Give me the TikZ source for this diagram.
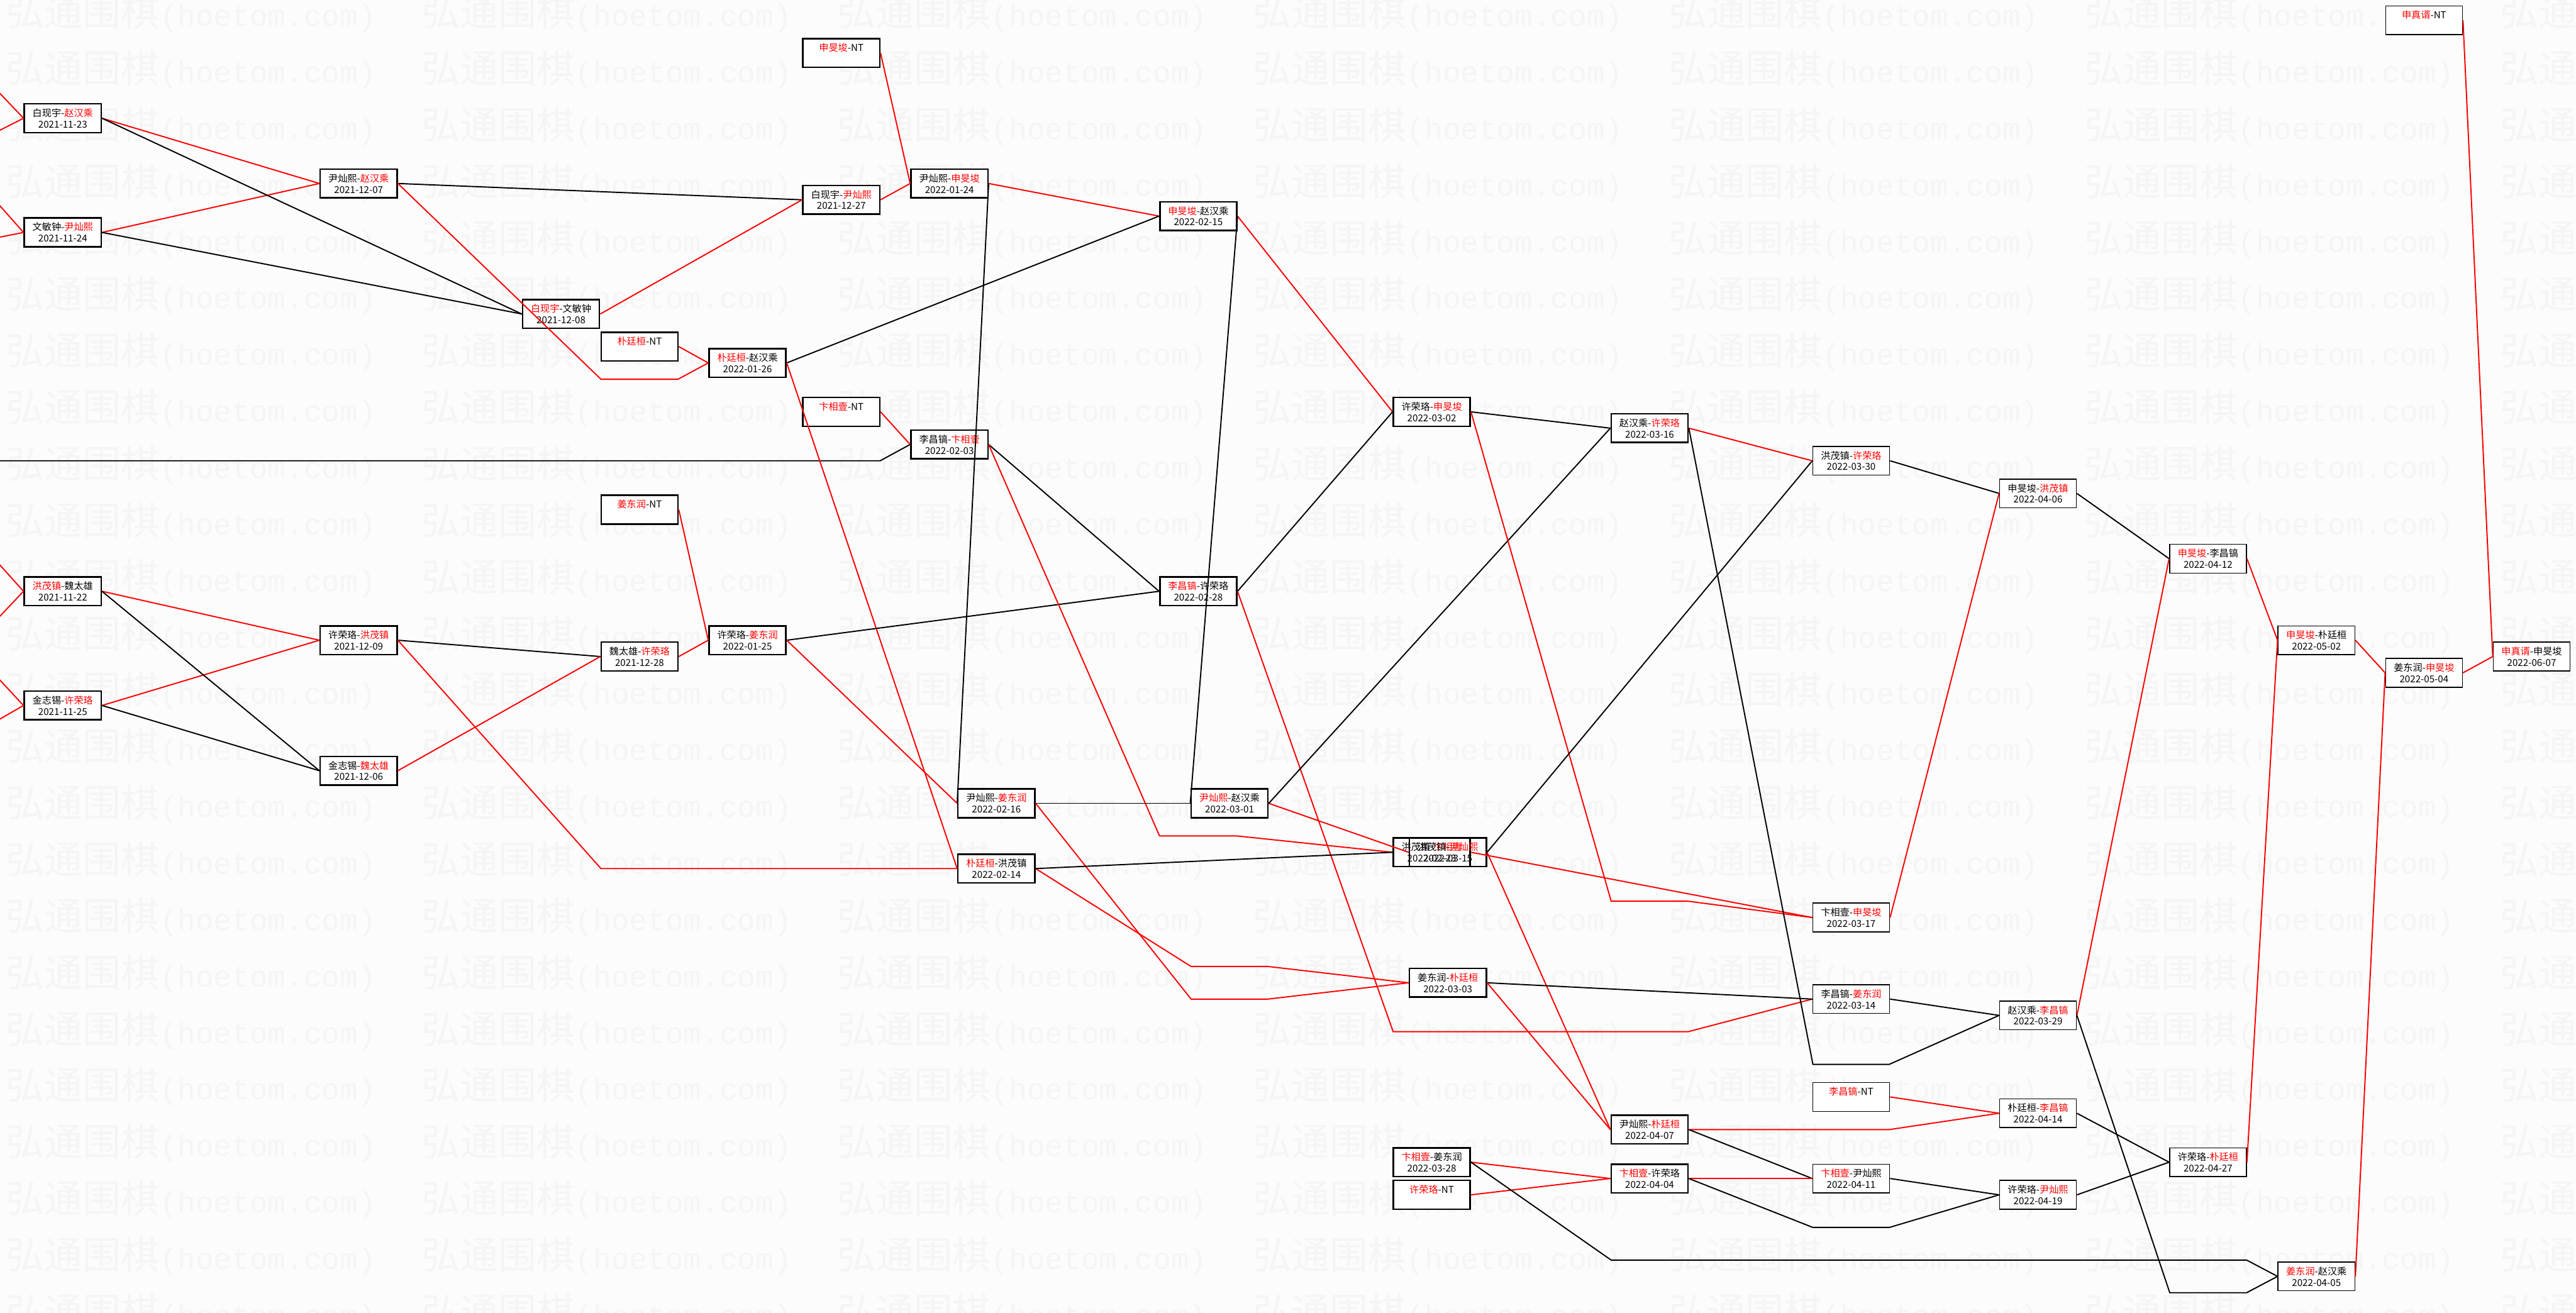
\documentclass[tikz,border=0pt]{standalone}
\usepackage{fontspec}
\usepackage{tikz}
\newfontfamily\cjk{Noto Sans CJK SC}
\newfontfamily\wmmono{Liberation Mono}
\definecolor{paper}{RGB}{252,252,252}
\definecolor{wmgray}{RGB}{245,245,245}
\newcommand{\rd}[1]{\textcolor{red}{#1}}
\newcommand{\gamefont}{\cjk\fontsize{3.3}{3.9}\selectfont}
\newcommand{\wmtext}{{\cjk\fontsize{13.3}{14}\selectfont 弘通围棋}{\wmmono\fontsize{10.4}{12}\selectfont(hoetom.com)}}

\begin{document}
\begin{tikzpicture}[x=0.2mm, y=-1.986mm,
  game/.style={draw, line width=0.55pt, fill=white, minimum width=9.36mm,
               minimum height=3.5mm, inner sep=0pt, align=center, font=\gamefont},
  gamelt/.style={game, line width=0.33pt},
  win/.style={red, line width=0.42pt},
  loss/.style={black, line width=0.42pt},
  wm/.style={anchor=west, inner sep=0pt, text=wmgray}]
  \useasboundingbox (0,-1.249) rectangle (1568,79.214);
  \fill[paper] (0,-1.249) rectangle (1568,79.214);
  % watermark
  \foreach \r in {0,...,23} {
    \foreach \c in {-1,...,6} {
      \node[wm] at ({3.4+253*\c},{-0.443+3.464*\r}) {\wmtext};
    }
  }
  % first round
  \node[game] (d1123) at (38.2,6) {白现宇-\rd{赵汉乘}\\2021-11-23};
  \node[game] (d1124) at (38.2,13) {文敏钟-\rd{尹灿熙}\\2021-11-24};
  \node[game] (d1122) at (38.2,35) {\rd{洪茂镇}-魏太雄\\2021-11-22};
  \node[game] (d1125) at (38.2,42) {金志锡-\rd{许荣珞}\\2021-11-25};
  % december
  \node[game] (d1207) at (218.3,10) {尹灿熙-\rd{赵汉乘}\\2021-12-07};
  \node[game] (d1209) at (218.3,38) {许荣珞-\rd{洪茂镇}\\2021-12-09};
  \node[game] (d1206) at (218.3,46) {金志锡-\rd{魏太雄}\\2021-12-06};
  \node[game] (d1208) at (341.5,18) {\rd{白现宇}-文敏钟\\2021-12-08};
  \node[game] (ntpark) at (389.3,20) {\rd{朴廷桓}-NT\\\phantom{0}};
  \node[game] (ntkang) at (389.3,30) {\rd{姜东润}-NT\\\phantom{0}};
  \node[game] (d1228) at (389.3,39) {魏太雄-\rd{许荣珞}\\2021-12-28};
  \node[game] (d0126) at (455,21) {\rd{朴廷桓}-赵汉乘\\2022-01-26};
  \node[game] (d0125) at (455,38) {许荣珞-\rd{姜东润}\\2022-01-25};
  \node[game] (ntshin) at (512.1,2) {\rd{申旻埈}-NT\\\phantom{0}};
  \node[game] (d1227) at (512.1,11) {白现宇-\rd{尹灿熙}\\2021-12-27};
  \node[game] (ntbyun) at (512.1,24) {\rd{卞相壹}-NT\\\phantom{0}};
  % january, february
  \node[game] (d0124) at (577.9,10) {尹灿熙-\rd{申旻埈}\\2022-01-24};
  \node[game] (d0203) at (577.9,26) {李昌镐-\rd{卞相壹}\\2022-02-03};
  \node[game] (d0216) at (606.5,48) {尹灿熙-\rd{姜东润}\\2022-02-16};
  \node[game] (d0214) at (606.5,52) {\rd{朴廷桓}-洪茂镇\\2022-02-14};
  \node[game] (d0215) at (729.4,12) {\rd{申旻埈}-赵汉乘\\2022-02-15};
  \node[game] (d0228) at (729.4,35) {\rd{李昌镐}-许荣珞\\2022-02-28};
  \node[game] (d0301) at (748.4,48) {\rd{尹灿熙}-赵汉乘\\2022-03-01};
  % march
  \node[game] (d0302) at (871.5,24) {许荣珞-\rd{申旻埈}\\2022-03-02};
  \node[game] (d0223) at (871.5,51) {洪茂镇-\rd{卞相壹}\\2022-02-23};
  \node[game, fill=none] (d0315) at (881.3,51) {洪茂镇-\rd{尹灿熙}\\2022-03-15};
  \node[game] (d0303) at (881.3,59) {姜东润-\rd{朴廷桓}\\2022-03-03};
  \node[game] (d0328) at (871.5,70) {\rd{卞相壹}-姜东润\\2022-03-28};
  \node[game] (ntheo) at (871.5,72) {\rd{许荣珞}-NT\\\phantom{0}};
  \node[game] (d0316) at (1004.1,25) {赵汉乘-\rd{许荣珞}\\2022-03-16};
  \node[game] (d0407) at (1004.1,68) {尹灿熙-\rd{朴廷桓}\\2022-04-07};
  \node[game] (d0404) at (1004.1,71) {\rd{卞相壹}-许荣珞\\2022-04-04};
  \node[gamelt] (d0330) at (1126.8,27) {洪茂镇-\rd{许荣珞}\\2022-03-30};
  \node[gamelt] (d0317) at (1126.8,55) {卞相壹-\rd{申旻埈}\\2022-03-17};
  \node[gamelt] (d0314) at (1126.8,60) {李昌镐-\rd{姜东润}\\2022-03-14};
  \node[gamelt] (ntlee) at (1126.8,66) {\rd{李昌镐}-NT\\\phantom{0}};
  \node[gamelt] (d0411) at (1126.8,71) {\rd{卞相壹}-尹灿熙\\2022-04-11};
  % april to june
  \node[gamelt] (d0406) at (1240.5,29) {申旻埈-\rd{洪茂镇}\\2022-04-06};
  \node[gamelt] (d0329) at (1240.5,61) {赵汉乘-\rd{李昌镐}\\2022-03-29};
  \node[gamelt] (d0414) at (1240.5,67) {朴廷桓-\rd{李昌镐}\\2022-04-14};
  \node[gamelt] (d0419) at (1240.5,72) {许荣珞-\rd{尹灿熙}\\2022-04-19};
  \node[gamelt] (d0412) at (1344,33) {\rd{申旻埈}-李昌镐\\2022-04-12};
  \node[gamelt] (d0427) at (1344,70) {许荣珞-\rd{朴廷桓}\\2022-04-27};
  \node[gamelt] (d0502) at (1410,38) {\rd{申旻埈}-朴廷桓\\2022-05-02};
  \node[gamelt] (d0405) at (1410,77) {\rd{姜东润}-赵汉乘\\2022-04-05};
  \node[gamelt] (ntshinjs) at (1475.5,0) {\rd{申真谞}-NT\\\phantom{0}};
  \node[gamelt] (d0504) at (1475.5,40) {姜东润-\rd{申旻埈}\\2022-05-04};
  \node[gamelt] (d0607) at (1541,39) {\rd{申真谞}-申旻埈\\2022-06-07};
  % feeds from the left edge
  \coordinate (in1a) at (-20,2.36);  \coordinate (in1b) at (-20,7.76);
  \coordinate (in2a) at (-20,9.10);  \coordinate (in2b) at (-20,13.69);
  \coordinate (in3a) at (-20,31.15); \coordinate (in3b) at (-20,38.65);
  \coordinate (in4a) at (-20,38.28); \coordinate (in4b) at (-20,43.99);
  \coordinate (inlee) at (-20,27);
  \draw[win] (in1a) -- (d1123.west); \draw[win] (in1b) -- (d1123.west);
  \draw[win] (in2a) -- (d1124.west); \draw[win] (in2b) -- (d1124.west);
  \draw[win] (in3a) -- (d1122.west); \draw[win] (in3b) -- (d1122.west);
  \draw[win] (in4a) -- (d1125.west); \draw[win] (in4b) -- (d1125.west);
  \draw[loss] (inlee) -- (535.7,27) -- (d0203.west);
  % december links
  \draw[win] (d1123.east) -- (d1207.west); \draw[win] (d1124.east) -- (d1207.west);
  \draw[loss] (d1123.east) -- (d1208.west); \draw[loss] (d1124.east) -- (d1208.west);
  \draw[win] (d1122.east) -- (d1209.west); \draw[win] (d1125.east) -- (d1209.west);
  \draw[loss] (d1122.east) -- (d1206.west); \draw[loss] (d1125.east) -- (d1206.west);
  \draw[loss] (d1207.east) -- (d1227.west);
  \draw[win] (d1207.east) -- (365.8,22) -- (412.7,22) -- (d0126.west);
  \draw[win] (d1208.east) -- (d1227.west);
  \draw[loss] (d1209.east) -- (d1228.west);
  \draw[win] (d1206.east) -- (d1228.west);
  \draw[win] (d1209.east) -- (365.8,52) -- (d0214.west);
  \draw[win] (ntpark.east) -- (d0126.west);
  \draw[win] (ntkang.east) -- (d0125.west);
  \draw[win] (d1228.east) -- (d0125.west);
  \draw[win] (ntshin.east) -- (d0124.west);
  \draw[win] (d1227.east) -- (d0124.west);
  \draw[win] (ntbyun.east) -- (d0203.west);
  % january, february links
  \draw[win] (d0124.east) -- (d0215.west); \draw[loss] (d0124.east) -- (d0216.west);
  \draw[loss] (d0126.east) -- (d0215.west); \draw[win] (d0126.east) -- (d0214.west);
  \draw[loss] (d0125.east) -- (d0228.west); \draw[win] (d0125.east) -- (d0216.west);
  \draw[loss] (d0203.east) -- (d0228.west);
  \draw[win] (d0203.east) -- (705.8,50) -- (753,50) -- (d0223.west);
  \draw[win] (d0215.east) -- (d0302.west); \draw[loss] (d0215.east) -- (d0301.west);
  \draw[loss] (d0228.east) -- (d0302.west);
  \draw[win] (d0228.east) -- (848,62) -- (1027.5,62) -- (d0314.west);
  \draw[loss] (d0216.east) -- (d0301.west);
  \draw[win] (d0216.east) -- (725,60) -- (771.7,60) -- (d0303.west);
  \draw[win] (d0214.east) -- (725,58) -- (771.7,58) -- (d0303.west);
  \draw[loss] (d0214.east) -- (d0223.west);
  \draw[win] (d0301.east) -- (d0315.west); \draw[loss] (d0301.east) -- (d0316.west);
  % march links
  \draw[loss] (d0302.east) -- (d0316.west);
  \draw[win] (d0302.east) -- (980.7,54) -- (1027.5,54) -- (d0317.west);
  \draw[win] (d0223.east) -- (d0317.west);
  \draw[loss] (d0315.east) -- (d0330.west); \draw[win] (d0315.east) -- (d0407.west);
  \draw[loss] (d0303.east) -- (d0314.west); \draw[win] (d0303.east) -- (d0407.west);
  \draw[win] (d0328.east) -- (d0404.west); \draw[win] (ntheo.east) -- (d0404.west);
  \draw[loss] (d0328.east) -- (980.7,76) -- (1367.5,76) -- (d0405.west);
  \draw[win] (d0316.east) -- (d0330.west);
  \draw[loss] (d0316.east) -- (1103.5,64) -- (1150,64) -- (d0329.west);
  \draw[win] (d0407.east) -- (1150,68) -- (d0414.west);
  \draw[loss] (d0407.east) -- (d0411.west);
  \draw[win] (d0404.east) -- (d0411.west);
  \draw[loss] (d0404.east) -- (1103.5,74) -- (1150,74) -- (d0419.west);
  % april to june links
  \draw[loss] (d0330.east) -- (d0406.west); \draw[win] (d0317.east) -- (d0406.west);
  \draw[loss] (d0314.east) -- (d0329.west); \draw[win] (ntlee.east) -- (d0414.west);
  \draw[loss] (d0411.east) -- (d0419.west);
  \draw[loss] (d0406.east) -- (d0412.west); \draw[win] (d0329.east) -- (d0412.west);
  \draw[loss] (d0329.east) -- (1320.7,78) -- (1367.5,78) -- (d0405.west);
  \draw[loss] (d0414.east) -- (d0427.west); \draw[loss] (d0419.east) -- (d0427.west);
  \draw[win] (d0412.east) -- (d0502.west); \draw[win] (d0427.east) -- (d0502.west);
  \draw[win] (d0502.east) -- (d0504.west); \draw[win] (d0405.east) -- (d0504.west);
  \draw[win] (d0504.east) -- (d0607.west); \draw[win] (ntshinjs.east) -- (d0607.west);
\end{tikzpicture}
\end{document}
